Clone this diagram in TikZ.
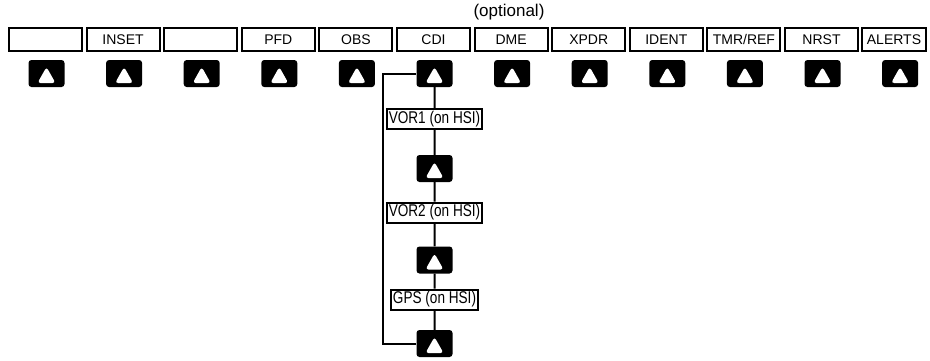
\documentclass[tikz,border=0pt]{standalone}
\usepackage{fontspec}
\setmainfont{Liberation Sans}
\newfontfamily\narrowfont{Liberation Sans}[FakeStretch=0.8]
\begin{document}
\begin{tikzpicture}[x=1pt,y=-1pt,
  softkey/.style={draw, line width=2pt, minimum width=73pt, minimum height=23pt, inner sep=0pt,
    font=\fontsize{14}{15}\selectfont},
  btn/.style={fill=black, rounded corners=3pt, minimum width=36pt, minimum height=27pt, inner sep=0pt,
    path picture={\fill[white] (path picture bounding box.center) ++(-9,9.5) -- ++(18,0) -- ++(-9,-16) -- cycle;}},
  modebox/.style={draw, line width=2pt, minimum height=20pt, inner xsep=2pt, inner ysep=0pt,
    font=\narrowfont\fontsize{17}{18}\selectfont},
  wire/.style={line width=2pt}]
\useasboundingbox (0,0) rectangle (930,360);
% top softkey labels
\foreach \i/\t in {1/{},2/{INSET},3/{},4/{PFD},5/{OBS},6/{CDI},7/{DME},8/{XPDR},9/{IDENT},10/{TMR/REF},11/{NRST}}{
  \node[softkey] (t\i) at ({45.5+77.6*(\i-1)},39.5) {\t};
}
\node[softkey, minimum width=64pt] (t12) at (894,39.5) {ALERTS};
\node[font=\fontsize{17}{18}\selectfont, inner sep=0pt] (opt) at (509,12) {(optional)};
% buttons
\foreach \i in {1,...,12}{
  \node[btn] (k\i) at ({46.5+77.6*(\i-1)},73.5) {};
}
% CDI cycle
\node[modebox] (vor1) at (434.5,119) {VOR1 (on HSI)};
\node[btn] (k13) at (434.5,168.5) {};
\node[modebox] (vor2) at (434.5,212.5) {VOR2 (on HSI)};
\node[btn] (k14) at (434.5,260) {};
\node[modebox] (gps) at (434.5,299.5) {GPS (on HSI)};
\node[btn] (k15) at (434.5,343.5) {};
\draw[wire] (k6) -- (vor1) -- (k13) -- (vor2) -- (k14) -- (gps) -- (k15);
\coordinate (loop) at (383,343.5);
\draw[wire] (k15.west) -- (loop) |- (k6.west);
\end{tikzpicture}
\end{document}
